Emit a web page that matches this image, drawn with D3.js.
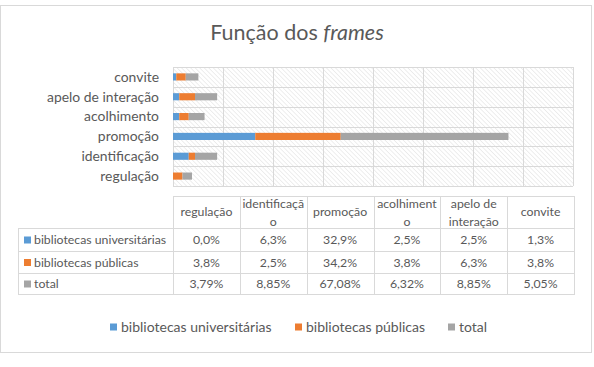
<!DOCTYPE html>
<html>
<head>
<meta charset="utf-8">
<script src="https://cdn.jsdelivr.net/npm/d3@7"></script>
<style>
  body { margin: 0; background: #fff; }
  svg { display: block; font-family: Lato, "Open Sans", sans-serif; }
</style>
</head>
<body>
<svg id="chart"></svg>
<script>
// Configuration
const width = 594;
const height = 367;
const plot = {left: 173, right: 573, top: 67, bottom: 186};

// Data
const categories = ['regulação', 'identificação', 'promoção', 'acolhimento', 'apelo de interação', 'convite'];
const headerLabels = [['regulação'], ['identificaçã', 'o'], ['promoção'], ['acolhiment', 'o'], ['apelo de', 'interação'], ['convite']];
const seriesNames = ['bibliotecas universitárias', 'bibliotecas públicas', 'total'];
const universitarias = [0.0, 6.3, 32.9, 2.5, 2.5, 1.3];
const publicas = [3.8, 2.5, 34.2, 3.8, 6.3, 3.8];
const total = [3.79, 8.85, 67.08, 6.32, 8.85, 5.05];
const tableText = [
    ['0,0%', '6,3%', '32,9%', '2,5%', '2,5%', '1,3%'],
    ['3,8%', '2,5%', '34,2%', '3,8%', '6,3%', '3,8%'],
    ['3,79%', '8,85%', '67,08%', '6,32%', '8,85%', '5,05%']
];
const colors = ['#5B9BD5', '#ED7D31', '#A5A5A5'];
const textColor = '#595959';
const gridColor = '#D9D9D9';

const rows = categories.map((c, i) => ({
    category: c,
    [seriesNames[0]]: universitarias[i],
    [seriesNames[1]]: publicas[i],
    [seriesNames[2]]: total[i]
}));

const svg = d3.select("#chart")
    .attr("width", width)
    .attr("height", height);

// Outer frame
svg.append("rect")
    .attr("x", 0.5).attr("y", 5.5)
    .attr("width", 591).attr("height", 347)
    .attr("fill", "#fff")
    .attr("stroke", gridColor);

// Title
const title = svg.append("text")
    .attr("x", 297).attr("y", 40)
    .attr("text-anchor", "middle")
    .attr("fill", textColor)
    .style("font-size", "21.5px");
title.append("tspan").text("Função dos ");
title.append("tspan").style("font-style", "italic").text("frames");

// Hatch pattern for plot area
const defs = svg.append("defs");
defs.append("pattern")
    .attr("id", "hatch")
    .attr("patternUnits", "userSpaceOnUse")
    .attr("width", 3.2).attr("height", 3.2)
    .attr("patternTransform", "rotate(-45)")
    .append("line")
    .attr("x1", 0).attr("y1", 0).attr("x2", 0).attr("y2", 3.2)
    .attr("stroke", "#DEDEDE")
    .attr("stroke-width", 1);

// Scales
const x = d3.scaleLinear().domain([0, 160]).range([plot.left, plot.right]);
const y = d3.scaleBand()
    .domain(categories.slice().reverse())
    .range([plot.top, plot.bottom])
    .paddingInner(0.64).paddingOuter(0.32);

svg.append("rect")
    .attr("x", plot.left).attr("y", plot.top)
    .attr("width", plot.right - plot.left).attr("height", plot.bottom - plot.top)
    .attr("fill", "url(#hatch)");

// Vertical gridlines via axis
svg.append("g")
    .attr("transform", `translate(0,${plot.bottom})`)
    .call(d3.axisBottom(x).tickValues(d3.range(0, 161, 20)).tickSize(-(plot.bottom - plot.top)).tickFormat(""))
    .call(g => g.select(".domain").remove())
    .call(g => g.selectAll(".tick line").attr("stroke", gridColor));

// Horizontal gridlines at band edges
const step = (plot.bottom - plot.top) / categories.length;
svg.append("g")
    .selectAll("line")
    .data(d3.range(categories.length + 1))
    .join("line")
    .attr("x1", plot.left).attr("x2", plot.right)
    .attr("y1", d => Math.round(plot.top + d * step) + 0.5)
    .attr("y2", d => Math.round(plot.top + d * step) + 0.5)
    .attr("stroke", gridColor);

// Category labels
svg.append("g")
    .selectAll("text")
    .data(categories)
    .join("text")
    .attr("x", 159)
    .attr("y", d => y(d) + y.bandwidth() / 2)
    .attr("dy", "0.35em")
    .attr("text-anchor", "end")
    .attr("fill", textColor)
    .style("font-size", "13.9px")
    .text(d => d);

// Stacked bars
const stacked = d3.stack().keys(seriesNames)(rows);
svg.append("g")
    .selectAll("g")
    .data(stacked)
    .join("g")
    .attr("fill", (d, i) => colors[i])
    .selectAll("rect")
    .data(d => d)
    .join("rect")
    .attr("x", d => x(d[0]))
    .attr("y", d => y(d.data.category))
    .attr("width", d => x(d[1]) - x(d[0]))
    .attr("height", y.bandwidth());

// Data table
const tbl = {left: 18, top: 196, headerBottom: 228, rowLines: [251, 273, 294]};
const colX = d3.scaleBand().domain(categories).range([plot.left, plot.right + 1]);
const tg = svg.append("g").attr("fill", textColor).style("font-size", "12.3px");

// header border
tg.append("rect")
    .attr("x", plot.left + 0.5).attr("y", tbl.top + 0.5)
    .attr("width", plot.right + 1 - plot.left).attr("height", tbl.headerBottom - tbl.top)
    .attr("fill", "none").attr("stroke", gridColor);
tg.append("rect")
    .attr("x", tbl.left + 0.5).attr("y", tbl.headerBottom + 0.5)
    .attr("width", plot.right + 1 - tbl.left).attr("height", tbl.rowLines[2] - tbl.headerBottom)
    .attr("fill", "none").attr("stroke", gridColor);
tg.selectAll(".hline")
    .data(tbl.rowLines.slice(0, 2))
    .join("line")
    .attr("x1", tbl.left).attr("x2", plot.right + 1)
    .attr("y1", d => d + 0.5).attr("y2", d => d + 0.5)
    .attr("stroke", gridColor);
tg.selectAll(".vline")
    .data(categories)
    .join("line")
    .attr("x1", d => Math.round(colX(d)) + 0.5).attr("x2", d => Math.round(colX(d)) + 0.5)
    .attr("y1", tbl.top).attr("y2", tbl.rowLines[2])
    .attr("stroke", gridColor);

// header labels
tg.selectAll(".head")
    .data(categories)
    .join("text")
    .attr("text-anchor", "middle")
    .attr("x", d => colX(d) + colX.bandwidth() / 2)
    .attr("y", (d, i) => headerLabels[i].length === 1 ? 212 : 204)
    .each(function(d, i) {
        d3.select(this).selectAll("tspan")
            .data(headerLabels[i])
            .join("tspan")
            .attr("x", colX(d) + colX.bandwidth() / 2)
            .attr("dy", (t, j) => j === 0 ? "0.35em" : "1.4em")
            .text(t => t);
    });

// rows
const rowTops = [tbl.headerBottom, tbl.rowLines[0], tbl.rowLines[1]];
seriesNames.forEach((s, si) => {
    const cy = (rowTops[si] + tbl.rowLines[si]) / 2 + 0.5;
    tg.append("rect")
        .attr("x", 24).attr("y", cy - 3.5)
        .attr("width", 7).attr("height", 7)
        .attr("fill", colors[si]);
    tg.append("text")
        .attr("x", 34).attr("y", cy).attr("dy", "0.35em")
        .text(s);
    tg.selectAll(null)
        .data(tableText[si])
        .join("text")
        .attr("text-anchor", "middle")
        .attr("x", (d, i) => colX(categories[i]) + colX.bandwidth() / 2)
        .attr("y", cy).attr("dy", "0.35em")
        .text(d => d);
});

// Legend
const legendItems = [{x: 110}, {x: 295}, {x: 448}];
const lg = svg.append("g").style("font-size", "14px").attr("fill", textColor);
seriesNames.forEach((s, i) => {
    lg.append("rect")
        .attr("x", legendItems[i].x).attr("y", 323.5)
        .attr("width", 7).attr("height", 7)
        .attr("fill", colors[i]);
    lg.append("text")
        .attr("x", legendItems[i].x + 11).attr("y", 327).attr("dy", "0.35em")
        .text(s);
});
</script>
</body>
</html>
